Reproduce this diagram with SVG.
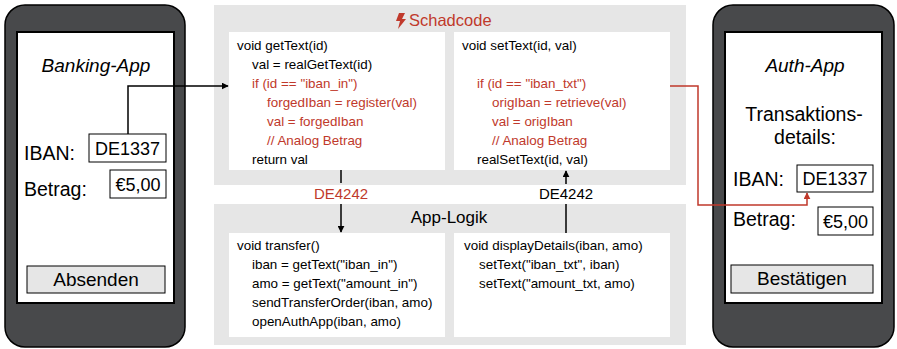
<svg xmlns="http://www.w3.org/2000/svg" width="897" height="349" viewBox="0 0 897 349">
<style>
.phone{fill:#48494b;stroke:#000;stroke-width:1.5}
.screen{fill:#fff;stroke:#000;stroke-width:2}
.field{fill:#fff;stroke:#000;stroke-width:1}
.btn{fill:#e6e6e6;stroke:#000;stroke-width:1}
.panel{fill:#e6e6e6}
.card{fill:#fff}
.lbl{font-family:"Liberation Sans",Arial,sans-serif;font-size:19.5px;fill:#000}
.fv{font-family:"Liberation Sans",Arial,sans-serif;font-size:18px;fill:#000}
.app{font-family:"Liberation Sans",Arial,sans-serif;font-size:19px;font-style:italic;fill:#000}
.code{font-family:"Liberation Sans",Arial,sans-serif;font-size:13.4px;fill:#000}
.red{fill:#c0392b}
.title{font-family:"Liberation Sans",Arial,sans-serif;font-size:16.5px}
.val{font-family:"Liberation Sans",Arial,sans-serif;font-size:15px}
.conn{fill:none;stroke:#000;stroke-width:1.5}
.connr{fill:none;stroke:#c0392b;stroke-width:1.5}
</style>
<defs>
<marker id="ab" viewBox="0 0 10 10" refX="9" refY="5" markerWidth="7" markerHeight="7" markerUnits="userSpaceOnUse" orient="auto"><path d="M0,0 L10,5 L0,10 Z" fill="#000"/></marker>
<marker id="ar" viewBox="0 0 10 10" refX="9" refY="5" markerWidth="7" markerHeight="7" markerUnits="userSpaceOnUse" orient="auto"><path d="M0,0 L10,5 L0,10 Z" fill="#c0392b"/></marker>
</defs>

<g id="panel-schadcode">
<rect class="panel" x="214" y="5" width="472" height="180"/>
<path class="red" d="M399,13 L405,13 L402,19 L406,19 L398,29 L400,21 L396,21 Z"/>
<text class="title red" x="409" y="26">Schadcode</text>
</g>

<g id="panel-applogik">
<rect class="panel" x="214" y="204" width="472" height="141"/>
<text class="title" x="449" y="223" text-anchor="middle" style="font-size:17px">App-Logik</text>
</g>

<g id="getText">
<rect class="card" x="229" y="32" width="216" height="138"/>
<text class="code" x="237" y="50">void getText(id)</text>
<text class="code" x="252" y="69">val = realGetText(id)</text>
<text class="code red" x="252" y="88">if (id == "iban_in")</text>
<text class="code red" x="267" y="107">forgedIban = register(val)</text>
<text class="code red" x="267" y="126">val = forgedIban</text>
<text class="code red" x="267" y="145">// Analog Betrag</text>
<text class="code" x="252" y="164">return val</text>
</g>

<g id="setText">
<rect class="card" x="454" y="32" width="216" height="138"/>
<text class="code" x="462" y="50">void setText(id, val)</text>
<text class="code red" x="477" y="88">if (id == "iban_txt")</text>
<text class="code red" x="492" y="107">origIban = retrieve(val)</text>
<text class="code red" x="492" y="126">val = origIban</text>
<text class="code red" x="492" y="145">// Analog Betrag</text>
<text class="code" x="477" y="164">realSetText(id, val)</text>
</g>

<g id="transfer">
<rect class="card" x="229" y="233" width="216" height="104"/>
<text class="code" x="237" y="250">void transfer()</text>
<text class="code" x="252" y="269">iban = getText("iban_in")</text>
<text class="code" x="252" y="288">amo = getText("amount_in")</text>
<text class="code" x="252" y="307">sendTransferOrder(iban, amo)</text>
<text class="code" x="252" y="326">openAuthApp(iban, amo)</text>
</g>

<g id="displayDetails">
<rect class="card" x="454" y="233" width="216" height="104"/>
<text class="code" x="464" y="250">void displayDetails(iban, amo)</text>
<text class="code" x="479" y="269">setText("iban_txt", iban)</text>
<text class="code" x="479" y="288">setText("amount_txt, amo)</text>
</g>

<g id="banking-app">
<rect class="phone" x="5" y="5" width="180" height="342" rx="20"/>
<rect class="screen" x="17" y="32" width="157" height="271"/>
<text class="app" x="96" y="72" text-anchor="middle">Banking-App</text>
<text class="lbl" x="24" y="160">IBAN:</text>
<rect class="field" x="89" y="134" width="77" height="28"/>
<text class="fv" x="127.5" y="155" text-anchor="middle">DE1337</text>
<text class="lbl" x="24" y="196">Betrag:</text>
<rect class="field" x="110" y="170" width="56" height="28"/>
<text class="fv" x="138" y="191" text-anchor="middle">€5,00</text>
<rect class="btn" x="27" y="266" width="138" height="27"/>
<text class="lbl" x="96" y="286" text-anchor="middle" style="font-size:19px">Absenden</text>
</g>

<g id="auth-app">
<rect class="phone" x="713" y="5" width="181" height="342" rx="20"/>
<rect class="screen" x="725" y="32" width="157" height="271"/>
<text class="app" x="805" y="72" text-anchor="middle">Auth-App</text>
<text class="lbl" x="804" y="121" text-anchor="middle">Transaktions-</text>
<text class="lbl" x="805" y="144" text-anchor="middle">details:</text>
<text class="lbl" x="733" y="186">IBAN:</text>
<rect class="field" x="797" y="165" width="76" height="27"/>
<text class="fv" x="835" y="185" text-anchor="middle">DE1337</text>
<text class="lbl" x="733" y="226">Betrag:</text>
<rect class="field" x="818" y="207" width="55" height="28"/>
<text class="fv" x="845.5" y="228" text-anchor="middle">€5,00</text>
<rect class="btn" x="731" y="265" width="142" height="28"/>
<text class="lbl" x="802" y="285" text-anchor="middle" style="font-size:19px">Bestätigen</text>
</g>

<g id="connectors">
<path class="conn" d="M128,134 V86 H228" marker-end="url(#ab)"/>
<path class="conn" d="M341,170 V183"/>
<text class="val red" x="341" y="199" text-anchor="middle">DE4242</text>
<path class="conn" d="M341,204 V232" marker-end="url(#ab)"/>
<path class="conn" d="M566,233 V204"/>
<text class="val" x="566" y="199" text-anchor="middle">DE4242</text>
<path class="conn" d="M566,184 V171" marker-end="url(#ab)"/>
<path class="connr" d="M670,86 H698 V205 H807 V193" marker-end="url(#ar)"/>
</g>
</svg>
